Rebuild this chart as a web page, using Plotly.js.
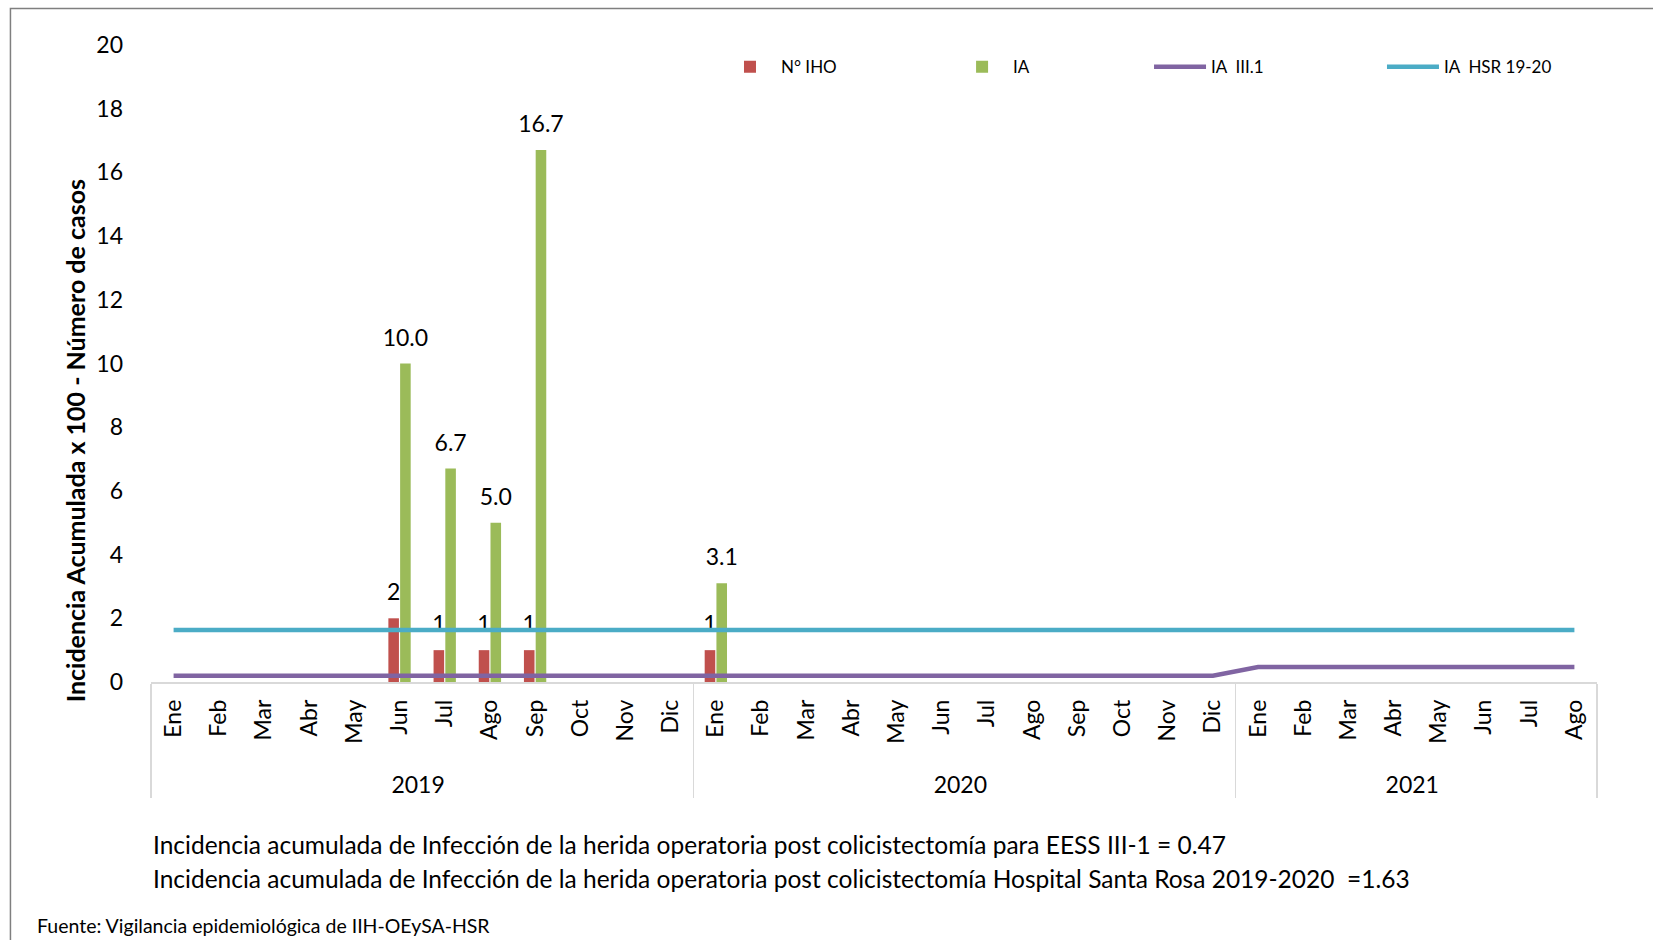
<!DOCTYPE html>
<html>
<head>
<meta charset="utf-8">
<script src="https://cdn.plot.ly/plotly-3.0.1.min.js"></script>
<style>
html,body{margin:0;padding:0;background:#fff;}
#chart{width:1653px;height:940px;}
</style>
</head>
<body>
<div id="chart"></div>
<script>
// ---- data ----
const years = ["2019","2019","2019","2019","2019","2019","2019","2019","2019","2019","2019","2019",
               "2020","2020","2020","2020","2020","2020","2020","2020","2020","2020","2020","2020",
               "2021","2021","2021","2021","2021","2021","2021","2021"];
const months = ["Ene","Feb","Mar","Abr","May","Jun","Jul","Ago","Sep","Oct","Nov","Dic",
                "Ene","Feb","Mar","Abr","May","Jun","Jul","Ago","Sep","Oct","Nov","Dic",
                "Ene","Feb","Mar","Abr","May","Jun","Jul","Ago"];
const nIHO = [null,null,null,null,null,2,1,1,1,null,null,null,
              1,null,null,null,null,null,null,null,null,null,null,null,
              null,null,null,null,null,null,null,null];
const ia = [null,null,null,null,null,10.0,6.7,5.0,16.7,null,null,null,
            3.1,null,null,null,null,null,null,null,null,null,null,null,
            null,null,null,null,null,null,null,null];
const iaIII1 = [0.2,0.2,0.2,0.2,0.2,0.2,0.2,0.2,0.2,0.2,0.2,0.2,
                0.2,0.2,0.2,0.2,0.2,0.2,0.2,0.2,0.2,0.2,0.2,0.2,
                0.47,0.47,0.47,0.47,0.47,0.47,0.47,0.47];
const iaHSR = [1.63,1.63,1.63,1.63,1.63,1.63,1.63,1.63,1.63,1.63,1.63,1.63,
               1.63,1.63,1.63,1.63,1.63,1.63,1.63,1.63,1.63,1.63,1.63,1.63,
               1.63,1.63,1.63,1.63,1.63,1.63,1.63,1.63];
const yTicks = [0,2,4,6,8,10,12,14,16,18,20];
const x = [years, months];

const FONT = "Lato, 'Open Sans', sans-serif";

// label: big value line + tiny spacer line, so the value sits a bit higher above the bar
function lbl(s){ return '<span style="font-size:23px">' + s + '</span><br>\u00a0'; }

const traces = [
  {type:'bar', name:'N° IHO', legend:'legend', x:x, y:nIHO,
   marker:{color:'#C0504D'},
   text:nIHO.map(v=>v===null?'':lbl(String(v))), textposition:'outside', cliponaxis:false,
   constraintext:'none', textfont:{size:10,color:'#000',family:FONT}},
  {type:'bar', name:'IA', legend:'legend2', x:x, y:ia,
   marker:{color:'#9BBB59'},
   text:ia.map(v=>v===null?'':lbl(v.toFixed(1))), textposition:'outside', cliponaxis:false,
   constraintext:'none', textfont:{size:10,color:'#000',family:FONT}},
  {type:'scatter', mode:'lines', name:'IA  III.1', legend:'legend3', x:x, y:iaIII1,
   line:{color:'#8064A2',width:4.5}},
  {type:'scatter', mode:'lines', name:'IA  HSR 19-20', legend:'legend4', x:x, y:iaHSR,
   line:{color:'#4BACC6',width:4.5}}
];

function leg(xp){
  return {orientation:'h', x:xp, y:0.965, xanchor:'left', yanchor:'middle',
          font:{size:17,family:FONT}, itemwidth:52, bgcolor:'rgba(0,0,0,0)'};
}

const layout = {
  width:1653, height:940,
  margin:{l:151, r:56, t:45, b:258, autoexpand:false},
  paper_bgcolor:'#fff', plot_bgcolor:'#fff',
  font:{family:FONT, color:'#000'},
  barmode:'group', bargap:0.48, bargroupgap:0.1,
  showlegend:true,
  legend:leg(0.3928), legend2:leg(0.5533), legend3:leg(0.6902), legend4:leg(0.8513),
  xaxis:{type:'multicategory', showline:true, linecolor:'#d9d9d9', linewidth:1.5,
         showgrid:false, ticks:'', tickangle:-90, tickfont:{size:23,family:FONT},
         ticklabelstandoff:7, tickprefix:'\u00a0\u00a0',
         showdividers:true, dividercolor:'#d9d9d9', dividerwidth:1.5, zeroline:false},
  yaxis:{range:[0,20], tickvals:yTicks, showgrid:false, zeroline:false, showline:false,
         ticks:'', tickfont:{size:23,family:FONT}, ticklabelstandoff:27},
  shapes:[
    {type:'rect', xref:'paper', yref:'paper', x0:-0.0972, x1:1.2, y0:-0.6, y1:1.0573,
     line:{color:'#7f7f7f', width:1.5}, fillcolor:'rgba(0,0,0,0)'}
  ],
  annotations:[
    {xref:'paper', yref:'paper', x:-0.0525, y:0.378, xanchor:'center', yanchor:'middle',
     textangle:-90, showarrow:false,
     text:'<b>Incidencia Acumulada x 100 - Número de casos</b>', font:{size:25,family:FONT}},
    {xref:'paper', yref:'paper', x:0, y:(682-844)/637, xanchor:'left', yanchor:'middle', showarrow:false,
     text:'Incidencia acumulada de Infección de la herida operatoria post colicistectomía para EESS III-1 = 0.47',
     font:{size:24.5,family:FONT}},
    {xref:'paper', yref:'paper', x:0, y:(682-878)/637, xanchor:'left', yanchor:'middle', showarrow:false,
     text:'Incidencia acumulada de Infección de la herida operatoria post colicistectomía Hospital Santa Rosa 2019-2020  =1.63',
     font:{size:24.5,family:FONT}},
    {xref:'paper', yref:'paper', x:(35-151)/1446, y:(682-925)/637, xanchor:'left', yanchor:'middle', showarrow:false,
     text:'Fuente: Vigilancia epidemiológica de IIH-OEySA-HSR', font:{size:19.5,family:FONT}}
  ]
};

Plotly.newPlot('chart', traces, layout, {displayModeBar:false, staticPlot:true});
</script>
</body>
</html>
